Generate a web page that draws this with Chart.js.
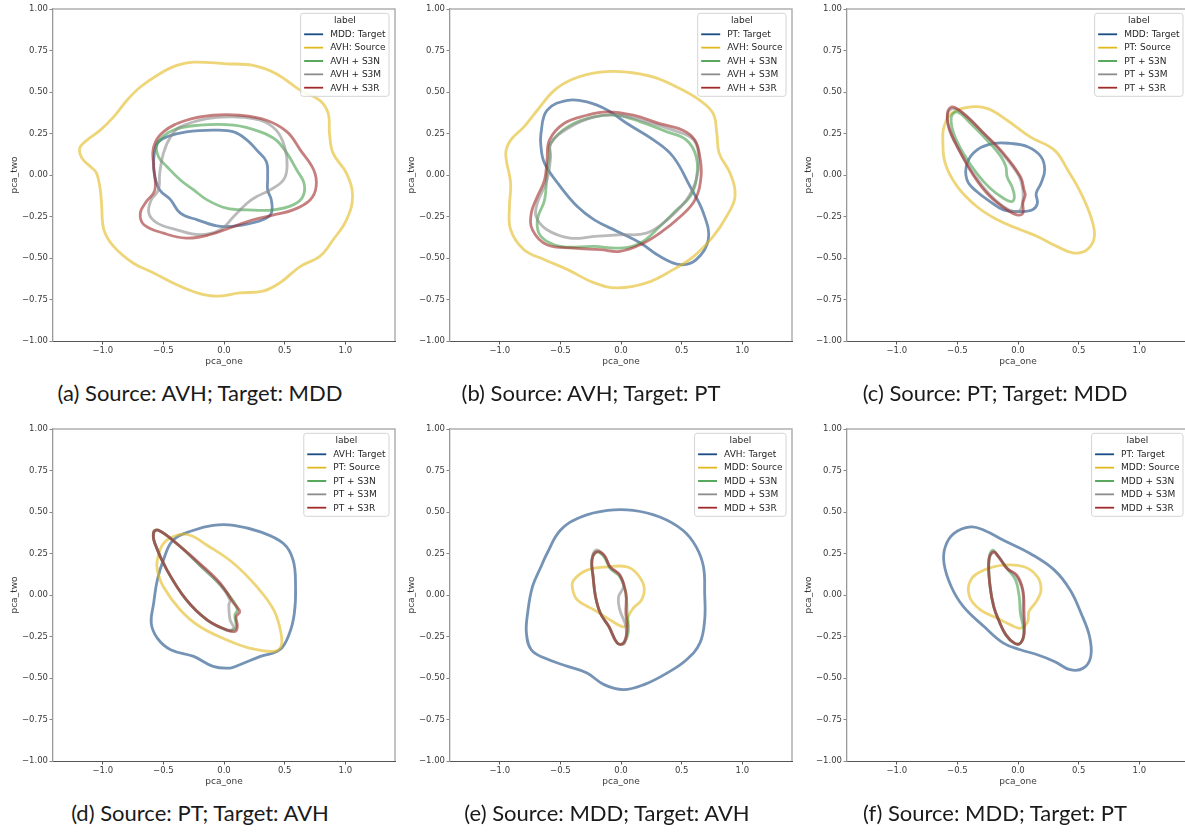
<!DOCTYPE html>
<html><head><meta charset="utf-8">
<script src="https://cdn.jsdelivr.net/npm/chart.js@4.4.0/dist/chart.umd.min.js"></script>
<style>
html,body{margin:0;padding:0;background:#fff;overflow:hidden;width:1185px;height:837px;position:relative;}
canvas{position:absolute;}
.cap{position:absolute;font-family:Lato,"Open Sans",sans-serif;font-size:22px;line-height:22px;color:#1a1a1a;white-space:nowrap;transform:translateX(-50%);}
</style></head><body>
<canvas id="pa" width="400" height="375"></canvas>
<canvas id="pb" width="400" height="375"></canvas>
<canvas id="pc" width="400" height="375"></canvas>
<canvas id="pd" width="400" height="375"></canvas>
<canvas id="pe" width="400" height="375"></canvas>
<canvas id="pf" width="400" height="375"></canvas>
<div class="cap" id="ca">(a) Source: AVH; Target: MDD</div>
<div class="cap" id="cb">(b) Source: AVH; Target: PT</div>
<div class="cap" id="cc">(c) Source: PT; Target: MDD</div>
<div class="cap" id="cd">(d) Source: PT; Target: AVH</div>
<div class="cap" id="ce">(e) Source: MDD; Target: AVH</div>
<div class="cap" id="cf">(f) Source: MDD; Target: PT</div>
<script>
// ---------- tick labels / ranges ----------
const xTicks = [-1.0, -0.5, 0.0, 0.5, 1.0];
const yTicks = [1.0, 0.75, 0.5, 0.25, 0.0, -0.25, -0.5, -0.75, -1.0];
const xRange = [-1.41, 1.41];
const yRange = [-1.0, 1.0];
const xTitle = 'pca_one';
const yTitle = 'pca_two';
const legendTitle = 'label';

// ---------- (a) Source: AVH; Target: MDD ----------
const aLabels = ['MDD: Target', 'AVH: Source', 'AVH + S3N', 'AVH + S3M', 'AVH + S3R'];
const aTarget = [[-0.55,0.19],[-0.47,0.23],[-0.31,0.26],[-0.09,0.27],[0.08,0.26],[0.19,0.21],[0.27,0.15],[0.35,0.08],[0.36,-0.01],[0.36,-0.09],[0.39,-0.15],[0.39,-0.23],[0.32,-0.27],[0.16,-0.30],[-0.03,-0.31],[-0.22,-0.27],[-0.36,-0.23],[-0.44,-0.15],[-0.53,-0.09],[-0.57,-0.01],[-0.58,0.09]];
const aSource = [[-0.25,0.68],[0.02,0.67],[0.24,0.66],[0.43,0.61],[0.63,0.51],[0.79,0.45],[0.86,0.37],[0.87,0.25],[0.90,0.13],[1.01,0.01],[1.06,-0.13],[1.01,-0.27],[0.90,-0.39],[0.79,-0.49],[0.63,-0.55],[0.46,-0.65],[0.32,-0.70],[0.13,-0.71],[-0.06,-0.73],[-0.22,-0.71],[-0.42,-0.65],[-0.58,-0.59],[-0.75,-0.53],[-0.91,-0.43],[-0.99,-0.33],[-1.01,-0.17],[-1.02,-0.09],[-1.05,0.01],[-1.10,0.05],[-1.17,0.10],[-1.19,0.16],[-1.13,0.21],[-1.02,0.27],[-0.91,0.35],[-0.80,0.45],[-0.69,0.53],[-0.53,0.61],[-0.39,0.66]];
const aS3N = [[-0.55,0.19],[-0.42,0.27],[-0.20,0.30],[0.08,0.30],[0.30,0.26],[0.43,0.21],[0.52,0.13],[0.60,0.03],[0.66,-0.05],[0.65,-0.13],[0.57,-0.18],[0.41,-0.21],[0.19,-0.21],[0.02,-0.20],[-0.14,-0.15],[-0.25,-0.09],[-0.36,-0.03],[-0.47,0.05],[-0.54,0.11]];
const aS3M = [[-0.36,0.29],[-0.14,0.34],[0.08,0.35],[0.30,0.33],[0.43,0.27],[0.50,0.17],[0.52,0.05],[0.49,-0.03],[0.38,-0.09],[0.27,-0.13],[0.19,-0.17],[0.08,-0.25],[-0.03,-0.33],[-0.20,-0.36],[-0.39,-0.33],[-0.55,-0.29],[-0.62,-0.23],[-0.60,-0.15],[-0.54,-0.09],[-0.53,0.01],[-0.50,0.13],[-0.44,0.23]];
const aS3R = [[-0.58,0.17],[-0.50,0.26],[-0.31,0.33],[-0.09,0.36],[0.13,0.36],[0.35,0.33],[0.52,0.26],[0.63,0.15],[0.74,0.03],[0.76,-0.07],[0.71,-0.15],[0.57,-0.21],[0.41,-0.24],[0.24,-0.27],[0.08,-0.31],[-0.12,-0.36],[-0.31,-0.38],[-0.50,-0.35],[-0.66,-0.30],[-0.69,-0.23],[-0.64,-0.16],[-0.57,-0.09],[-0.58,0.05]];

// ---------- (b) Source: AVH; Target: PT ----------
const bLabels = ['PT: Target', 'AVH: Source', 'AVH + S3N', 'AVH + S3M', 'AVH + S3R'];
const bTarget = [[-0.66,0.25],[-0.61,0.39],[-0.44,0.45],[-0.28,0.44],[-0.11,0.39],[0.05,0.31],[0.27,0.21],[0.43,0.11],[0.57,-0.07],[0.68,-0.23],[0.72,-0.39],[0.62,-0.51],[0.49,-0.54],[0.32,-0.49],[0.16,-0.41],[-0.03,-0.34],[-0.22,-0.27],[-0.36,-0.19],[-0.50,-0.07],[-0.63,0.07],[-0.66,0.17]];
const bSource = [[-0.17,0.62],[0.05,0.62],[0.27,0.59],[0.46,0.53],[0.65,0.45],[0.76,0.37],[0.79,0.25],[0.81,0.13],[0.90,0.01],[0.94,-0.13],[0.87,-0.25],[0.76,-0.37],[0.60,-0.49],[0.43,-0.57],[0.21,-0.65],[-0.03,-0.68],[-0.22,-0.65],[-0.44,-0.57],[-0.63,-0.51],[-0.80,-0.45],[-0.91,-0.33],[-0.92,-0.19],[-0.91,-0.05],[-0.95,0.13],[-0.91,0.21],[-0.80,0.29],[-0.69,0.39],[-0.55,0.51],[-0.39,0.58]];
const bS3N = [[-0.58,0.19],[-0.44,0.29],[-0.22,0.35],[-0.03,0.36],[0.16,0.32],[0.38,0.26],[0.54,0.21],[0.62,0.11],[0.62,-0.03],[0.57,-0.13],[0.46,-0.21],[0.32,-0.31],[0.16,-0.41],[-0.01,-0.44],[-0.22,-0.43],[-0.50,-0.43],[-0.66,-0.37],[-0.69,-0.27],[-0.63,-0.15],[-0.61,0.01],[-0.59,0.11]];
const bS3M = [[-0.58,0.19],[-0.44,0.28],[-0.22,0.35],[-0.01,0.36],[0.21,0.32],[0.43,0.27],[0.60,0.21],[0.64,0.09],[0.62,-0.03],[0.54,-0.15],[0.38,-0.27],[0.21,-0.35],[-0.01,-0.36],[-0.22,-0.37],[-0.42,-0.38],[-0.61,-0.33],[-0.70,-0.25],[-0.69,-0.17],[-0.61,-0.03],[-0.58,0.11]];
const bS3R = [[-0.59,0.21],[-0.47,0.31],[-0.28,0.36],[-0.11,0.38],[0.10,0.36],[0.32,0.31],[0.51,0.27],[0.61,0.21],[0.65,0.11],[0.66,-0.01],[0.61,-0.15],[0.49,-0.25],[0.32,-0.35],[0.16,-0.42],[-0.01,-0.46],[-0.17,-0.45],[-0.39,-0.44],[-0.61,-0.42],[-0.73,-0.33],[-0.74,-0.23],[-0.69,-0.13],[-0.63,-0.03],[-0.61,0.09]];

// ---------- (c) Source: PT; Target: MDD ----------
const cLabels = ['MDD: Target', 'PT: Source', 'PT + S3N', 'PT + S3M', 'PT + S3R'];
const cTarget = [[-0.42,0.07],[-0.34,0.15],[-0.20,0.19],[-0.06,0.19],[0.08,0.17],[0.19,0.11],[0.22,0.03],[0.19,-0.05],[0.15,-0.11],[0.16,-0.17],[0.12,-0.21],[0.02,-0.22],[-0.12,-0.21],[-0.23,-0.16],[-0.34,-0.10],[-0.42,-0.03]];
const cSource = [[-0.61,0.29],[-0.55,0.37],[-0.39,0.41],[-0.25,0.40],[-0.09,0.33],[0.10,0.23],[0.30,0.15],[0.41,0.03],[0.52,-0.11],[0.60,-0.25],[0.63,-0.37],[0.57,-0.45],[0.46,-0.47],[0.32,-0.43],[0.16,-0.37],[0.02,-0.33],[-0.17,-0.27],[-0.34,-0.19],[-0.50,-0.07],[-0.60,0.07],[-0.62,0.21]];
const cS3N = [[-0.55,0.35],[-0.50,0.38],[-0.39,0.31],[-0.23,0.19],[-0.14,0.11],[-0.10,0.05],[-0.09,-0.01],[-0.05,-0.07],[-0.03,-0.13],[-0.05,-0.16],[-0.12,-0.14],[-0.23,-0.08],[-0.34,0.01],[-0.45,0.13],[-0.53,0.25]];
const cS3M = [[-0.58,0.37],[-0.53,0.40],[-0.43,0.36],[-0.27,0.24],[-0.12,0.12],[0.01,-0.01],[0.04,-0.09],[0.04,-0.15],[0.02,-0.21],[-0.03,-0.22],[-0.12,-0.19],[-0.23,-0.12],[-0.36,0.00],[-0.50,0.17],[-0.57,0.28]];
const cS3R = [[-0.58,0.38],[-0.54,0.41],[-0.45,0.37],[-0.28,0.25],[-0.12,0.13],[0.02,-0.01],[0.05,-0.09],[0.06,-0.12],[0.04,-0.17],[0.04,-0.23],[-0.01,-0.24],[-0.09,-0.21],[-0.23,-0.13],[-0.36,-0.01],[-0.50,0.17],[-0.57,0.29]];

// ---------- (d) Source: PT; Target: AVH ----------
const dLabels = ['AVH: Target', 'PT: Source', 'PT + S3N', 'PT + S3M', 'PT + S3R'];
const dTarget = [[-0.50,0.21],[-0.42,0.33],[-0.25,0.39],[-0.09,0.42],[0.08,0.42],[0.30,0.38],[0.49,0.31],[0.57,0.21],[0.59,0.05],[0.58,-0.11],[0.54,-0.23],[0.46,-0.33],[0.30,-0.37],[0.13,-0.42],[0.05,-0.44],[-0.09,-0.43],[-0.25,-0.37],[-0.44,-0.33],[-0.55,-0.26],[-0.60,-0.17],[-0.58,-0.05],[-0.55,0.09]];
const dSource = [[-0.55,0.21],[-0.50,0.31],[-0.39,0.36],[-0.28,0.36],[-0.14,0.30],[0.08,0.19],[0.27,0.05],[0.41,-0.09],[0.47,-0.23],[0.47,-0.31],[0.41,-0.34],[0.21,-0.32],[0.02,-0.27],[-0.20,-0.19],[-0.36,-0.09],[-0.50,0.05],[-0.55,0.15]];
const dS3N = [[-0.58,0.38],[-0.54,0.39],[-0.39,0.31],[-0.20,0.18],[-0.03,0.06],[0.08,-0.04],[0.11,-0.09],[0.09,-0.12],[0.10,-0.19],[0.08,-0.21],[0.02,-0.21],[-0.14,-0.15],[-0.31,-0.03],[-0.47,0.15],[-0.57,0.31]];
const dS3M = [[-0.58,0.37],[-0.54,0.39],[-0.39,0.31],[-0.20,0.18],[-0.03,0.06],[0.05,-0.03],[0.04,-0.06],[0.05,-0.15],[0.08,-0.20],[0.02,-0.21],[-0.14,-0.15],[-0.31,-0.03],[-0.47,0.15],[-0.57,0.31]];
const dS3R = [[-0.58,0.38],[-0.54,0.39],[-0.39,0.31],[-0.20,0.19],[-0.03,0.07],[0.08,-0.05],[0.13,-0.10],[0.10,-0.13],[0.11,-0.19],[0.09,-0.22],[0.02,-0.21],[-0.14,-0.15],[-0.31,-0.03],[-0.47,0.15],[-0.57,0.31]];

// ---------- (e) Source: MDD; Target: AVH ----------
const eLabels = ['AVH: Target', 'MDD: Source', 'MDD + S3N', 'MDD + S3M', 'MDD + S3R'];
const eTarget = [[-0.50,0.39],[-0.33,0.47],[-0.11,0.51],[0.10,0.51],[0.32,0.47],[0.51,0.39],[0.62,0.29],[0.68,0.17],[0.69,0.01],[0.69,-0.15],[0.65,-0.29],[0.54,-0.39],[0.38,-0.47],[0.19,-0.54],[0.02,-0.57],[-0.14,-0.54],[-0.28,-0.47],[-0.44,-0.43],[-0.63,-0.38],[-0.74,-0.33],[-0.78,-0.23],[-0.77,-0.11],[-0.73,0.05],[-0.66,0.17],[-0.61,0.25]];
const eSource = [[-0.39,0.09],[-0.28,0.15],[-0.11,0.17],[0.05,0.17],[0.13,0.13],[0.19,0.05],[0.17,-0.03],[0.10,-0.08],[0.06,-0.13],[0.05,-0.18],[0.01,-0.19],[-0.09,-0.15],[-0.22,-0.09],[-0.36,-0.03],[-0.40,0.04]];
const eS3N = [[-0.24,0.21],[-0.20,0.26],[-0.14,0.23],[-0.09,0.16],[-0.01,0.11],[0.04,0.01],[0.05,-0.11],[0.06,-0.22],[0.02,-0.29],[-0.03,-0.29],[-0.10,-0.19],[-0.17,-0.11],[-0.21,-0.01],[-0.23,0.11]];
const eS3M = [[-0.24,0.21],[-0.21,0.27],[-0.14,0.24],[-0.09,0.17],[-0.01,0.12],[0.02,0.05],[-0.02,-0.01],[-0.01,-0.09],[0.04,-0.19],[0.03,-0.29],[-0.03,-0.29],[-0.10,-0.19],[-0.17,-0.11],[-0.21,-0.01],[-0.23,0.11]];
const eS3R = [[-0.24,0.21],[-0.20,0.26],[-0.14,0.24],[-0.09,0.17],[-0.01,0.12],[0.04,0.01],[0.04,-0.11],[0.05,-0.21],[0.02,-0.29],[-0.03,-0.29],[-0.10,-0.19],[-0.17,-0.11],[-0.21,-0.01],[-0.23,0.11]];

// ---------- (f) Source: MDD; Target: PT ----------
const fLabels = ['PT: Target', 'MDD: Source', 'MDD + S3N', 'MDD + S3M', 'MDD + S3R'];
const fTarget = [[-0.60,0.29],[-0.53,0.37],[-0.39,0.41],[-0.28,0.39],[-0.12,0.33],[0.10,0.25],[0.30,0.15],[0.43,0.03],[0.52,-0.11],[0.59,-0.25],[0.60,-0.37],[0.54,-0.44],[0.43,-0.45],[0.30,-0.40],[0.16,-0.36],[0.02,-0.33],[-0.12,-0.29],[-0.28,-0.19],[-0.45,-0.07],[-0.55,0.05],[-0.61,0.19]];
const fSource = [[-0.39,0.09],[-0.28,0.15],[-0.12,0.18],[0.05,0.17],[0.16,0.11],[0.19,0.03],[0.15,-0.04],[0.09,-0.10],[0.08,-0.16],[0.02,-0.20],[-0.06,-0.18],[-0.17,-0.14],[-0.31,-0.09],[-0.40,-0.01]];
const fS3N = [[-0.24,0.21],[-0.21,0.27],[-0.17,0.24],[-0.09,0.16],[-0.02,0.09],[0.01,-0.01],[0.02,-0.11],[0.05,-0.23],[0.02,-0.29],[-0.03,-0.29],[-0.10,-0.24],[-0.16,-0.15],[-0.20,-0.07],[-0.23,0.05]];
const fS3M = [[-0.24,0.21],[-0.21,0.26],[-0.16,0.23],[-0.09,0.16],[-0.01,0.11],[0.04,0.02],[0.04,-0.11],[0.05,-0.23],[0.02,-0.29],[-0.03,-0.29],[-0.10,-0.24],[-0.16,-0.15],[-0.20,-0.07],[-0.23,0.05]];
const fS3R = [[-0.24,0.21],[-0.20,0.26],[-0.16,0.23],[-0.09,0.16],[-0.01,0.12],[0.04,0.03],[0.05,-0.11],[0.05,-0.23],[0.02,-0.29],[-0.03,-0.29],[-0.10,-0.24],[-0.16,-0.15],[-0.20,-0.07],[-0.23,0.05]];

// ---------- styles & layout (not data) ----------
const baseColors = [[25,75,132],[225,185,30],[70,160,75],[140,140,140],[160,42,42]];
const lineAlpha = 0.6;
const panels = [
  {id:'pa', cap:'ca', left:0,   top:0,   capX:200, capY:382, labels:aLabels, series:[aTarget,aSource,aS3N,aS3M,aS3R]},
  {id:'pb', cap:'cb', left:397, top:0,   capX:591, capY:382, labels:bLabels, series:[bTarget,bSource,bS3N,bS3M,bS3R]},
  {id:'pc', cap:'cc', left:794, top:0,   capX:995, capY:382, labels:cLabels, series:[cTarget,cSource,cS3N,cS3M,cS3R]},
  {id:'pd', cap:'cd', left:0,   top:420, capX:200, capY:802, labels:dLabels, series:[dTarget,dSource,dS3N,dS3M,dS3R]},
  {id:'pe', cap:'ce', left:397, top:420, capX:607, capY:802, labels:eLabels, series:[eTarget,eSource,eS3N,eS3M,eS3R]},
  {id:'pf', cap:'cf', left:794, top:420, capX:995, capY:802, labels:fLabels, series:[fTarget,fSource,fS3N,fS3M,fS3R]}
];

const fmt = (v, d) => { const s = Math.abs(v).toFixed(d); return (v < -1e-9 ? '\u2212' : '') + s; };

// close each contour as a loop (drawn by Chart.js line element)
const loopPlugin = {
  id: 'loopContours',
  afterDatasetUpdate(chart, args) {
    const line = args.meta.dataset;
    if (!line) return;
    line._loop = true; line._fullLoop = true;
    line._segments = undefined; line._path = undefined; line._pointsUpdated = false;
  }
};

const framePlugin = {
  id: 'frame',
  afterDraw(chart) {
    const {ctx, chartArea: a} = chart;
    ctx.save();
    ctx.strokeStyle = '#b0b0b0'; ctx.lineWidth = 1.5;
    ctx.beginPath(); ctx.moveTo(a.left, a.top); ctx.lineTo(a.right, a.top); ctx.lineTo(a.right, a.bottom); ctx.stroke();
    ctx.restore();
  }
};

const legendPlugin = {
  id: 'innerLegend',
  afterDatasetsDraw(chart) {
    const {ctx, chartArea: a} = chart;
    const ds = chart.data.datasets;
    ctx.save();
    ctx.font = '9px "DejaVu Sans"';
    let maxW = 0;
    ds.forEach(d => { maxW = Math.max(maxW, ctx.measureText(d.label).width); });
    const w = 29.5 + maxW + 3.5, h = 83;
    const x0 = a.right - 6 - w, y0 = a.top + 4.3;
    ctx.beginPath();
    if (ctx.roundRect) ctx.roundRect(x0, y0, w, h, 2.5); else ctx.rect(x0, y0, w, h);
    ctx.fillStyle = 'rgba(255,255,255,0.85)'; ctx.fill();
    ctx.strokeStyle = '#d4d4d4'; ctx.lineWidth = 1; ctx.stroke();
    ctx.fillStyle = '#262626'; ctx.textBaseline = 'middle'; ctx.textAlign = 'center';
    ctx.fillText(legendTitle, x0 + w / 2, y0 + 7.6);
    ctx.textAlign = 'left';
    ds.forEach((d, i) => {
      const y = y0 + 21 + i * 13.35;
      ctx.strokeStyle = d.legendColor; ctx.lineWidth = 1.8;
      ctx.beginPath(); ctx.moveTo(x0 + 3.5, y); ctx.lineTo(x0 + 22.5, y); ctx.stroke();
      ctx.fillStyle = '#262626';
      ctx.fillText(d.label, x0 + 29.5, y + 0.5);
    });
    ctx.restore();
  }
};

panels.forEach(p => {
  const cv = document.getElementById(p.id);
  cv.style.left = p.left + 'px'; cv.style.top = p.top + 'px';
  const cap = document.getElementById(p.cap);
  cap.style.left = p.capX + 'px'; cap.style.top = p.capY + 'px';
  const n = p.series.length;
  const datasets = p.series.map((pts, i) => {
    const c = baseColors[i];
    return {
      label: p.labels[i],
      data: pts.map(q => ({x: q[0], y: q[1]})),
      order: n - 1 - i,
      borderColor: `rgba(${c[0]},${c[1]},${c[2]},${lineAlpha})`,
      legendColor: `rgb(${c[0]},${c[1]},${c[2]})`,
      borderWidth: 2.8,
      tension: 0.4,
      pointRadius: 0,
      pointHoverRadius: 0,
      fill: false,
      borderJoinStyle: 'round',
      borderCapStyle: 'round'
    };
  });
  new Chart(cv, {
    type: 'line',
    data: { datasets },
    options: {
      responsive: false,
      animation: false,
      events: [],
      layout: { padding: { top: 9, right: 5, left: 0, bottom: 0 } },
      plugins: { legend: { display: false }, tooltip: { enabled: false } },
      scales: {
        x: {
          type: 'linear', min: xRange[0], max: xRange[1],
          afterBuildTicks: s => { s.ticks = xTicks.map(v => ({value: v})); },
          afterFit: s => { s.height = 34; },
          grid: { drawOnChartArea: false, drawTicks: true, tickLength: 3.5, color: '#444', tickWidth: 0.9 },
          border: { display: true, color: '#555', width: 1 },
          ticks: { autoSkip: false, maxRotation: 0, padding: 1.5, color: '#3a3a3a',
                   font: { family: 'DejaVu Sans', size: 8.5 }, callback: v => fmt(v, 1) },
          title: { display: true, text: xTitle, color: '#3a3a3a', font: { family: 'DejaVu Sans', size: 9 },
                   padding: { top: 0, bottom: 7.6 } }
        },
        y: {
          type: 'linear', min: yRange[0], max: yRange[1],
          afterBuildTicks: s => { s.ticks = yTicks.map(v => ({value: v})); },
          afterFit: s => { s.width = 53; },
          grid: { drawOnChartArea: false, drawTicks: true, tickLength: 3.5, color: '#777', tickWidth: 0.9 },
          border: { display: true, color: '#999', width: 1.3 },
          ticks: { autoSkip: false, padding: 1.5, color: '#3a3a3a',
                   font: { family: 'DejaVu Sans', size: 8.5 }, callback: v => fmt(v, 2) },
          title: { display: true, text: yTitle, color: '#3a3a3a', font: { family: 'DejaVu Sans', size: 9 },
                   padding: { top: 9.6, bottom: 0 } }
        }
      }
    },
    plugins: [loopPlugin, framePlugin, legendPlugin]
  });
});
</script>
</body></html>
